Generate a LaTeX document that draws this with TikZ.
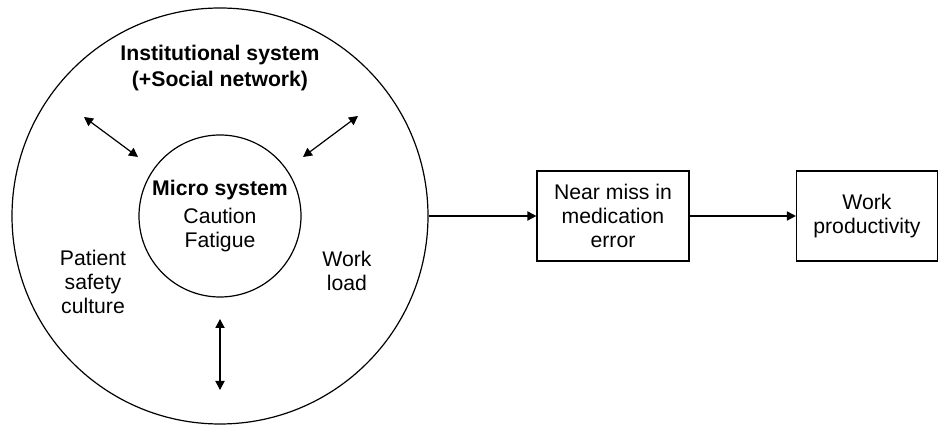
\documentclass[tikz,border=0pt]{standalone}
\usepackage{fontspec}
\setmainfont{Liberation Sans}
\usetikzlibrary{arrows,arrows.meta,positioning}
\tikzstyle{ring}=[circle,draw,line width=0.6pt,inner sep=0pt]
\tikzstyle{txt}=[align=center,font=\fontsize{10.6}{11.9}\selectfont]
\tikzstyle{box}=[rectangle,draw,line width=0.6pt,align=center,minimum height=45pt,font=\fontsize{10.6}{11.9}\selectfont]

\begin{document}
\begin{tikzpicture}[x=0.5pt,y=-0.5pt,>={Triangle[length=4.5pt,width=4.6pt]}]
        \useasboundingbox (0,0) rectangle (939,426);
        \node at (220,216) [ring,minimum size=208pt] (inst) {};
        \node at (220,216) [ring,minimum size=81pt,txt] (micro)
              {\textbf{Micro system}\\[2.2pt]Caution\\Fatigue};
        \node at (220,68)  [txt,font=\fontsize{10.6}{12.6}\selectfont\bfseries] (title)
              {Institutional system\\(+Social network)};
        \node at (93,282)  [txt] (culture) {Patient\\safety\\culture};
        \node at (347,271) [txt] (load) {Work\\load};
        \node at (613,216) [box,minimum width=76pt] (near) {Near miss in\\medication\\error};
        \node at (867,216) [box,minimum width=70.5pt] (prod) {Work\\productivity};

        \coordinate (a1) at (84,117);
        \coordinate (a2) at (138,157);
        \coordinate (b1) at (358,116);
        \coordinate (b2) at (303,157);
        \coordinate (c1) at (220,319);
        \coordinate (c2) at (220,390);

        \draw [<->,line width=0.6pt] (a1) -- (a2);
        \draw [<->,line width=0.6pt] (b1) -- (b2);
        \draw [<->,line width=0.6pt] (c1) -- (c2);
        \draw [->,line width=0.6pt] (inst) -- (near);
        \draw [->,line width=0.6pt] (near) -- (prod);
      \end{tikzpicture}
\end{document}
